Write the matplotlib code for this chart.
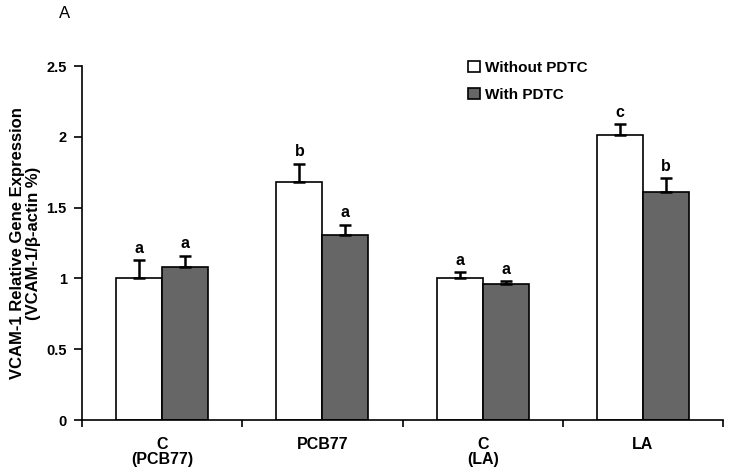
import matplotlib
matplotlib.use("Agg")
import matplotlib.pyplot as plt
import numpy as np

plt.rcParams["font.family"] = ["Liberation Sans", "DejaVu Sans"]

# Données
groups = ["C\n(PCB77)", "PCB77", "C\n(LA)", "LA"]
without_pdtc = [1.00, 1.68, 1.00, 2.01]
without_err = [0.13, 0.13, 0.045, 0.08]
with_pdtc = [1.08, 1.31, 0.96, 1.61]
with_err = [0.08, 0.07, 0.02, 0.10]
letters_without = ["a", "b", "a", "c"]
letters_with = ["a", "a", "a", "b"]

fig = plt.figure(figsize=(7.29, 4.75), dpi=100)
ax = fig.add_axes([82 / 729, 1 - 420 / 475, 641 / 729, 354 / 475])

x = np.arange(len(groups))
w = 0.2875
ax.bar(x - w / 2, without_pdtc, w, color="white", edgecolor="black",
       linewidth=1.2, label="Without PDTC", zorder=2)
ax.bar(x + w / 2, with_pdtc, w, color="#666666", edgecolor="black",
       linewidth=1.2, label="With PDTC", zorder=2)

# Barres d'erreur (seulement vers le haut)
ax.errorbar(x - w / 2, without_pdtc, yerr=[np.zeros(4), without_err],
            fmt="none", ecolor="black", elinewidth=1.8, capsize=4,
            capthick=1.8, zorder=3)
ax.errorbar(x + w / 2, with_pdtc, yerr=[np.zeros(4), with_err],
            fmt="none", ecolor="black", elinewidth=1.8, capsize=4,
            capthick=1.8, zorder=3)

# Lettres de significativité
for i in range(len(groups)):
    ax.text(x[i] - w / 2, without_pdtc[i] + without_err[i] + 0.03,
            letters_without[i], ha="center", va="bottom",
            fontsize=11.5, fontweight="bold")
    ax.text(x[i] + w / 2, with_pdtc[i] + with_err[i] + 0.03,
            letters_with[i], ha="center", va="bottom",
            fontsize=11.5, fontweight="bold")

ax.set_xlim(-0.5, 3.5)
ax.set_ylim(0, 2.5)
ax.set_yticks([0, 0.5, 1, 1.5, 2, 2.5])
ax.set_yticklabels(["0", "0.5", "1", "1.5", "2", "2.5"],
                   fontsize=10.5, fontweight="bold")
ax.set_xticks(x)
ax.set_xticklabels(groups, fontsize=11.5, fontweight="bold", linespacing=1.0,
                   va="top")
ax.tick_params(axis="x", which="major", length=0, pad=12)
ax.set_xticks(np.arange(-0.5, 4.0, 1.0), minor=True)
ax.tick_params(axis="x", which="minor", length=5, width=1.2, direction="out")
ax.tick_params(axis="y", length=6, width=1.2, direction="out", pad=5)

ax.spines["top"].set_visible(False)
ax.spines["right"].set_visible(False)
ax.spines["left"].set_linewidth(1.2)
ax.spines["bottom"].set_linewidth(1.2)

ax.set_ylabel("VCAM-1 Relative Gene Expression\n(VCAM-1/\u03b2-actin %)",
              fontsize=12, fontweight="bold", labelpad=4, linespacing=1.05)

ax.legend(loc="upper left", bbox_to_anchor=(0.581, 1.054), frameon=False,
          prop={"size": 11, "weight": "bold"}, handlelength=0.8,
          handleheight=0.8, handletextpad=0.3, labelspacing=0.85)

fig.text(65 / 729, 1 - 13 / 475, "A", fontsize=12, ha="center", va="center")

fig.savefig("out.png", dpi=100)
